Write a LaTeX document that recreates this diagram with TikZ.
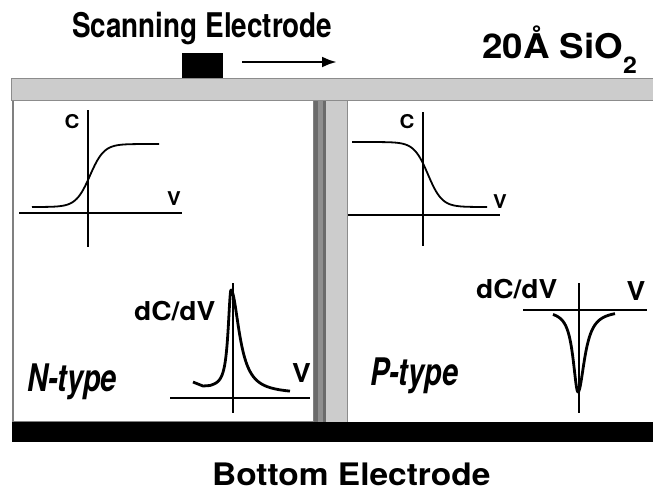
\documentclass[tikz,border=0pt]{standalone}
\usepackage{fontspec}
\setmainfont{TeX Gyre Heros}
\newfontfamily\condfont[FakeStretch=0.82]{TeX Gyre Heros}
\newfontfamily\wideheros[FakeStretch=1.08]{TeX Gyre Heros}
\newfontfamily\typefont[FakeStretch=0.76]{TeX Gyre Heros}
\usetikzlibrary{arrows.meta}
\definecolor{oxide}{gray}{0.80}
\definecolor{oxedge}{gray}{0.55}
\definecolor{wall}{gray}{0.42}
\definecolor{wallmid}{gray}{0.56}
\definecolor{boxedge}{gray}{0.50}

\begin{document}
\begin{tikzpicture}[x=1pt,y=-1pt,
  axis/.style={line width=1.5pt},
  cv/.style={line width=1.8pt},
  dcdv/.style={line width=2.8pt,line join=round},
  big/.style={inner sep=0pt,anchor=base west},
  lbl/.style={inner sep=0pt,font=\wideheros\bfseries\fontsize{19}{19}\selectfont}]
 \useasboundingbox (0,0) rectangle (653,499);
 % the two regions and the wall between them
 \draw [boxedge,line width=1.5pt] (13,100) rectangle (314,422);
 \fill [wall] (314,100) rectangle (326,422);
 \fill [wallmid] (317.5,100) rectangle (322.5,422);
 \fill [oxide] (326,100) rectangle (347,422);
 \draw [oxedge,line width=1pt] (347,100) -- (347,422);
 % oxide layer and the two electrodes
 \filldraw [fill=oxide,draw=oxedge,line width=1pt] (11,78) rectangle (660,100);
 \fill [black] (12,422) rectangle (653,442);
 \node [fill=black,inner sep=0pt,minimum width=41pt,minimum height=25pt] (E) at (202.5,65.5) {};
 \coordinate (A0) at (242,62);
 \coordinate (A1) at (337,62);
 \draw [-{Latex[length=15pt,width=11pt]},line width=2.8pt] (A0) -- (A1);
 \node [big,font=\condfont\bfseries\fontsize{34}{34}\selectfont] (T1) at (72,37) {Scanning Electrode};
 \node [big,font=\wideheros\bfseries\fontsize{34}{34}\selectfont] (T2) at (482,58)
   {20Å SiO\raisebox{-15pt}{\fontsize{23}{23}\selectfont 2}};
 \node [big,font=\wideheros\bfseries\fontsize{31}{31}\selectfont] (T3) at (212,485) {Bottom Electrode};
 % N-type, C-V
 \draw [axis] (19,213) -- (182,213);
 \draw [axis] (88,110) -- (88,247);
 \draw [cv] plot [domain=32:159,samples=80] (\x,{175.5-31.5*tanh((\x-90)/14)});
 \node [lbl] (C1) at (72,122) {C};
 \node [lbl] (V1) at (174,199) {V};
 % P-type, C-V
 \draw [axis] (348,215) -- (500,215);
 \draw [axis] (423,112) -- (423,246);
 \draw [cv] plot [domain=352:487,samples=80] (\x,{174.5+32.5*tanh((\x-428)/14)});
 \node [lbl] (C2) at (407,122) {C};
 \node [lbl] (V2) at (500,202) {V};
 % N-type, dC/dV
 \draw [axis] (170,398) -- (310,398);
 \draw [axis] (233,283) -- (233,413);
 \draw [dcdv] (193,382) -- (203,386) -- (210,385.5)
   -- plot [domain=212:231,samples=60] (\x,{388-98/(1+((\x-231)/3.5)^2)})
   -- plot [domain=231:290,samples=60] (\x,{394-104/(1+((\x-231)/10)^2)});
 \node [big,font=\wideheros\bfseries\fontsize{26}{26}\selectfont] (D1) at (134,320) {dC/dV};
 \node [inner sep=0pt,anchor=base,font=\wideheros\bfseries\fontsize{26}{26}\selectfont] (V3) at (301.5,382) {V};
 \node [big,font=\typefont\bfseries\itshape\fontsize{38}{38}\selectfont] (N) at (27,391) {N-type};
 % P-type, dC/dV
 \draw [axis] (523,310) -- (647,310);
 \draw [axis] (579,283) -- (579,413);
 \draw [dcdv] plot [domain=553:578,samples=60] (\x,{310+82/(1+((\x-578)/6)^2)})
   -- plot [domain=578:615,samples=60] (\x,{310+82/(1+((\x-578)/8)^2)});
 \node [big,font=\wideheros\bfseries\fontsize{26}{26}\selectfont] (D2) at (476,298) {dC/dV};
 \node [inner sep=0pt,anchor=base,font=\wideheros\bfseries\fontsize{26}{26}\selectfont] (V4) at (636,300) {V};
 \node [big,font=\typefont\bfseries\itshape\fontsize{38}{38}\selectfont] (P) at (370,385) {P-type};
\end{tikzpicture}
\end{document}
